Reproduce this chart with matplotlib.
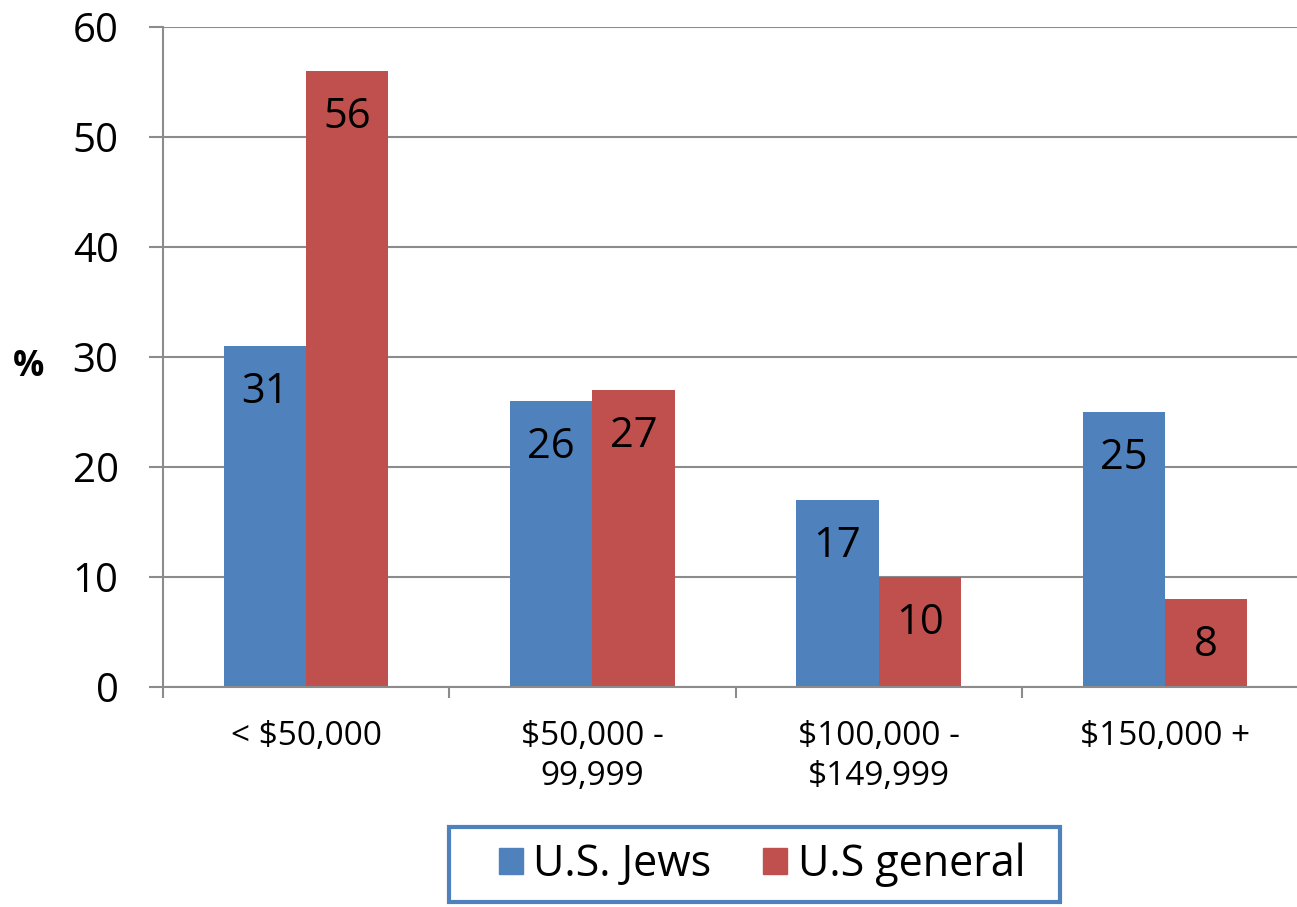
import numpy as np
import matplotlib.pyplot as plt
from matplotlib.patches import Patch, Rectangle

plt.rcParams['font.family'] = ['Open Sans', 'DejaVu Sans']

categories = ["< $50,000", "$50,000 -\n99,999", "$100,000 -\n$149,999", "$150,000 +"]
jews = [31, 26, 17, 25]
general = [56, 27, 10, 8]
series_names = ["U.S. Jews", "U.S general"]

blue = "#4F81BD"
red = "#C0504D"
gray = "#8C8C8C"

fig = plt.figure(figsize=(12.97, 9.07), dpi=100)
ax = fig.add_axes([163/1297, 1 - 687/907, (1308 - 163)/1297, (687 - 27)/907])

x = np.arange(len(categories))
w = 0.287
b1 = ax.bar(x - w/2, jews, w, color=blue)
b2 = ax.bar(x + w/2, general, w, color=red)

for bars in (b1, b2):
    for bar in bars:
        ax.annotate(str(int(bar.get_height())),
                    (bar.get_x() + bar.get_width()/2, bar.get_height()),
                    xytext=(0, -33), textcoords="offset points",
                    ha="center", va="center", fontsize=30)

ax.set_xlim(-0.5, 3.5)
ax.set_ylim(0, 60)
ax.set_yticks(range(0, 61, 10))
ax.yaxis.grid(True, color=gray, linewidth=1.5)
ax.set_axisbelow(True)

ax.set_xticks(x)
ax.set_xticklabels(categories, fontsize=24, linespacing=1.25)
ax.set_xticks(np.arange(-0.5, 4, 1), minor=True)
ax.tick_params(axis="x", which="major", length=0, pad=24)
ax.tick_params(axis="x", which="minor", length=8, width=1.5, color=gray)
ax.tick_params(axis="y", length=10, width=1.5, color=gray, labelsize=29, pad=22)

for s in ("top", "right"):
    ax.spines[s].set_visible(False)
for s in ("left", "bottom"):
    ax.spines[s].set_color(gray)
    ax.spines[s].set_linewidth(1.5)

fig.text(29/1297, 1 - 367/907, "%", fontsize=25, fontweight="bold", ha="center", va="center")

# legend box drawn separately (wider padding than matplotlib's frame)
fig.patches.append(Rectangle((449/1297, 1 - 902/907), 611/1297, 75/907,
                             transform=fig.transFigure, fill=False,
                             edgecolor=blue, linewidth=3))
handles = [Patch(color=blue), Patch(color=red)]
fig.legend(handles, series_names, loc="center", bbox_to_anchor=(762/1297, 1 - 865/907),
           ncol=2, fontsize=31, frameon=False,
           handlelength=0.55, handleheight=0.55, handletextpad=0.25, columnspacing=1.2,
           borderpad=0, borderaxespad=0)

fig.savefig("out.png", dpi=100)
